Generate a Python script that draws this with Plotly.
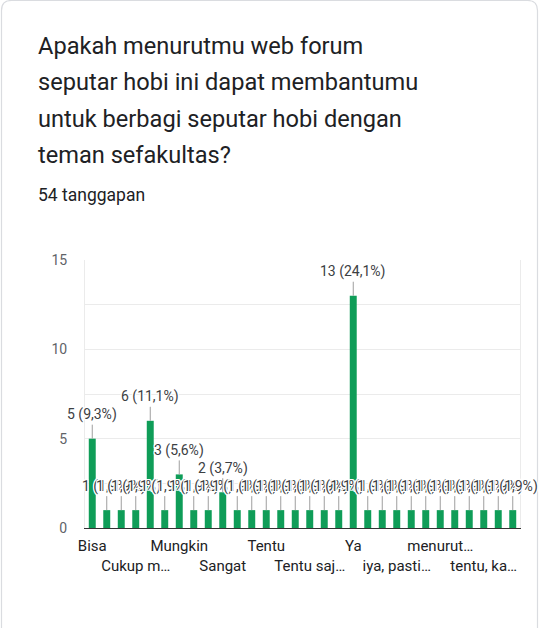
import plotly.graph_objects as go

# ---------------- data ----------------
categories = [
    "Bisa", "Bisa jadi", "Bisa, karena banyak teman", "Cukup membantu",
    "Iya", "Lumayan", "Mungkin", "Mungkin bisa", "Pasti",
    "Sangat", "Sangat membantu", "Setuju", "Tentu",
    "Tentu bisa", "Tentu membantu", "Tentu saja bisa", "Tentu saja, karena sehobi",
    "Tentu, sangat membantu", "Ya", "Ya bisa", "Ya, sangat membantu",
    "iya, pasti membantu", "iya, tentu", "lumayan", "menurut saya bisa",
    "mungkin bisa", "sangat membantu", "tentu, karena satu fakultas", "ya", "ya, bisa",
]
counts = [5, 1, 1, 1, 6, 1, 3, 1, 1, 2, 1, 1, 1, 1, 1,
          1, 1, 1, 13, 1, 1, 1, 1, 1, 1, 1, 1, 1, 1, 1]
tick_labels = ["Bisa", "Cukup m…", "Mungkin", "Sangat", "Tentu",
               "Tentu saj…", "Ya", "iya, pasti…", "menurut…", "tentu, ka…"]
y_ticks = [0, 5, 10, 15]

title_lines = [
    "Apakah menurutmu web forum",
    "seputar hobi ini dapat membantumu",
    "untuk berbagi seputar hobi dengan",
    "teman sefakultas?",
]
subtitle = "54 tanggapan"

total = sum(counts)

# ---------------- geometry helpers ----------------
W, H = 540, 628
PL, PR, PT, PB = 85, 520, 260, 528


def px(x):
    return (x - PL) / (PR - PL)


def py(y):
    return (PB - y) / (PB - PT)


GREEN = "#0f9d58"
TEXT = "#202124"

fig = go.Figure()
fig.add_trace(go.Bar(x=categories, y=counts, marker_color=GREEN,
                     marker_line_width=0, hoverinfo="skip"))

annotations = []
# title lines
baselines = [54, 90.5, 127, 163]
tsize = 23.6
for line, b in zip(title_lines, baselines):
    annotations.append(dict(
        text=line, xref="paper", yref="paper", x=px(36), y=py(b - 0.345 * tsize),
        xanchor="left", yanchor="middle", showarrow=False,
        font=dict(family="Roboto", size=tsize, color=TEXT)))
annotations.append(dict(
    text=subtitle, xref="paper", yref="paper", x=px(36), y=py(201.5 - 0.345 * 17.5),
    xanchor="left", yanchor="middle", showarrow=False,
    font=dict(family="Roboto", size=17.5, color=TEXT)))

halo = ("#fff 1px 0px 0px, #fff -1px 0px 0px, #fff 0px 1px 0px, #fff 0px -1px 0px, "
        "#fff 1px 1px 0px, #fff -1px -1px 0px, #fff 1px -1px 0px, #fff -1px 1px 0px")
for c, v in zip(categories, counts):
    pct = f"{v / total * 100:.1f}".replace(".", ",")
    annotations.append(dict(
        x=c, y=v, xref="x", yref="y", text=f"{v} ({pct}%)",
        showarrow=True, arrowhead=0, arrowwidth=1, arrowcolor="#9e9e9e",
        ax=0, ay=-24, standoff=0,
        font=dict(family="Roboto", size=14, color="#3c4043", shadow=halo)))

# tick text alternating between two rows
ticktext = [t if i % 2 == 0 else " <br>" + t for i, t in enumerate(tick_labels)]
tickvals = [categories[i] for i in range(0, len(categories), 3)]

# card border (rounded top corners)
x0, x1, y0, y1, r = px(1.5), px(537.5), py(0.5), py(700), 10
rx = r / (PR - PL)
ry = r / (PB - PT)
path = (f"M {x0},{y1} L {x0},{y0 - ry} Q {x0},{y0} {x0 + rx},{y0} "
        f"L {x1 - rx},{y0} Q {x1},{y0} {x1},{y0 - ry} L {x1},{y1}")

fig.update_layout(
    width=W, height=H,
    margin=dict(l=PL, r=W - PR, t=PT, b=H - PB, pad=0),
    paper_bgcolor="white", plot_bgcolor="white",
    showlegend=False, bargap=0.52,
    annotations=annotations,
    shapes=[dict(type="path", path=path, xref="paper", yref="paper",
                 line=dict(color="#dadce0", width=1.2), layer="below")],
    xaxis=dict(type="category", tickmode="array", tickvals=tickvals, ticktext=ticktext,
               range=[-0.5, len(categories) - 0.5], autorange=False,
               showgrid=False, showline=True, linecolor="#333333", linewidth=1,
               ticks="", ticklabelstandoff=4,
               tickfont=dict(family="Roboto", size=15, color=TEXT),
               tickangle=0, fixedrange=True),
    yaxis=dict(range=[0, 15], autorange=False, tickmode="array", tickvals=y_ticks,
               showgrid=True, gridcolor="#ebebeb", gridwidth=1,
               minor=dict(dtick=2.5, showgrid=True, gridcolor="#ebebeb", gridwidth=1),
               showline=True, mirror=True, linecolor="#ebebeb", linewidth=1,
               zeroline=False, ticks="", ticklabelstandoff=14,
               tickfont=dict(family="Roboto", size=14, color="#5f6368"),
               fixedrange=True),
)

fig.write_html("out.html")
